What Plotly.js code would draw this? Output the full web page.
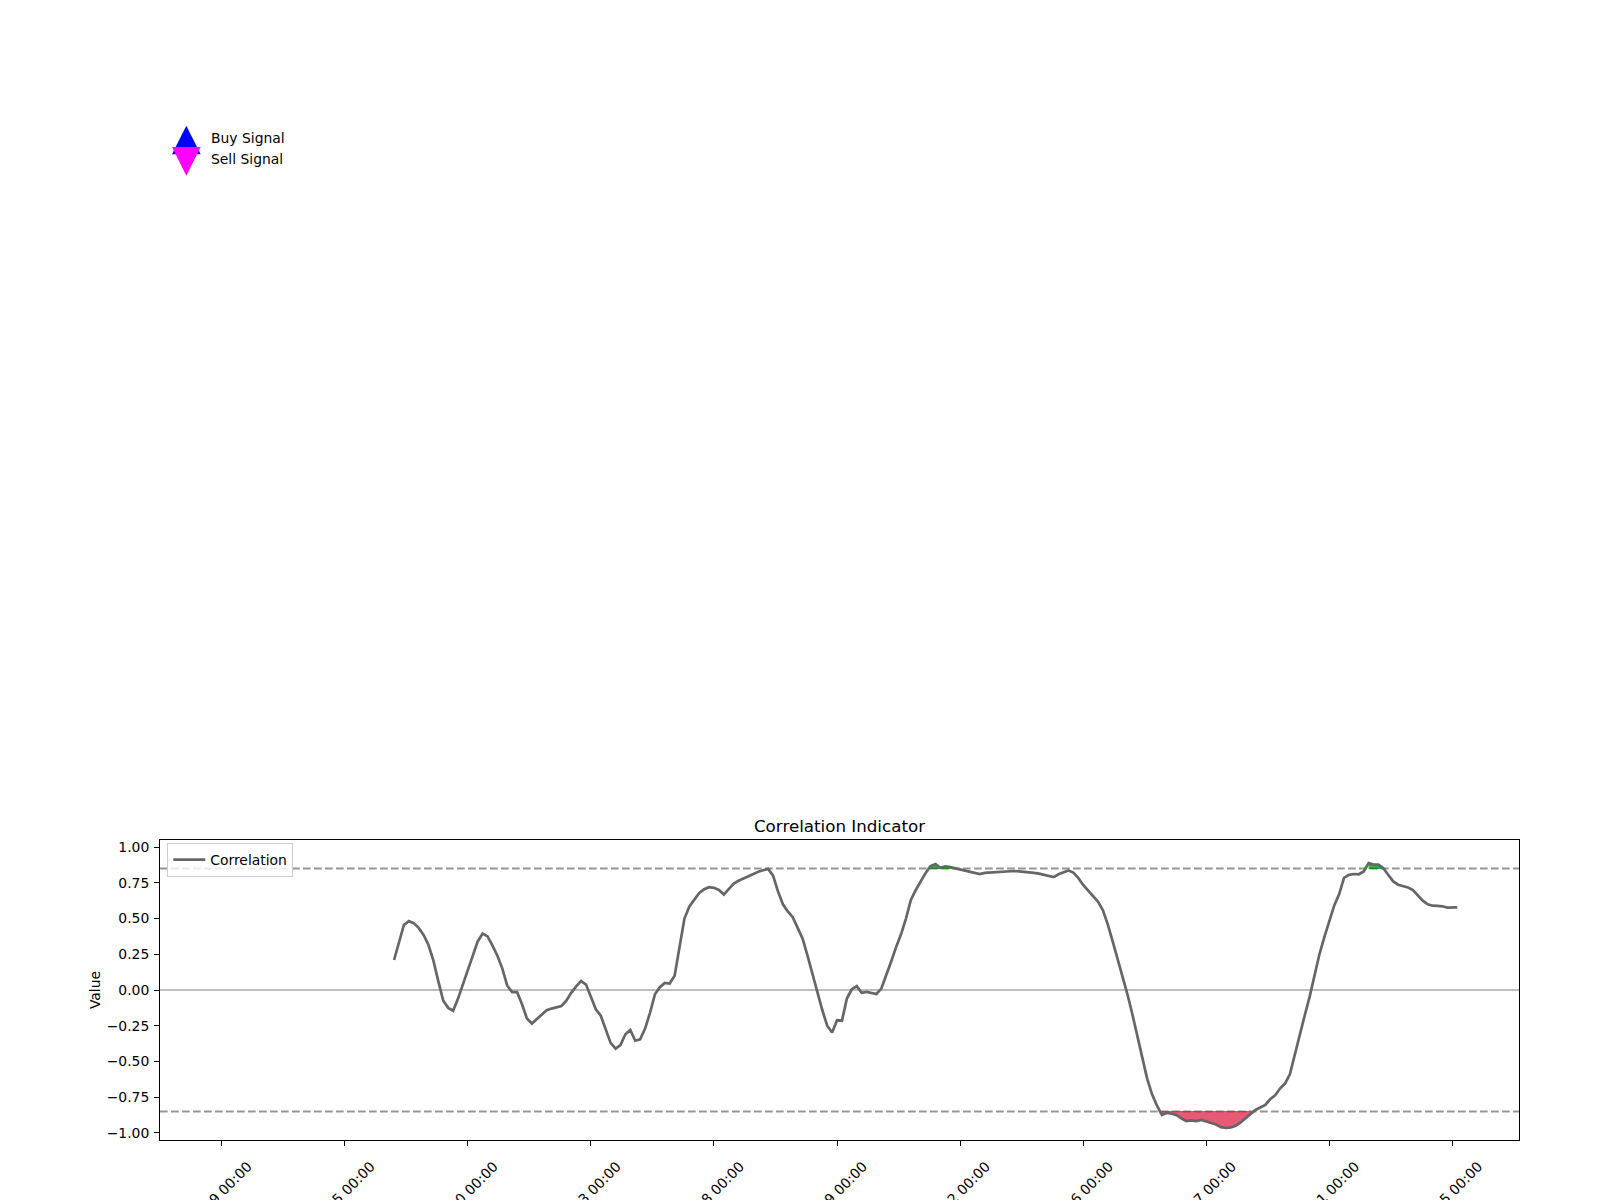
<!DOCTYPE html>
<html>
<head>
<meta charset="utf-8">
<script src="https://cdn.plot.ly/plotly-3.0.1.min.js"></script>
<style>
  html, body { margin: 0; padding: 0; background: #ffffff; }
  #chart { width: 1600px; height: 1200px; }
</style>
</head>
<body>
<div id="chart"></div>
<script>
// ---------------- data ----------------
const nPoints = 252;          // rows on the x axis (index 0 .. 251)
const corrStart = 35;         // first row with a correlation value (rolling window)
const corrValues = [
  0.21, 0.34, 0.455, 0.482, 0.468, 0.435, 0.385, 0.315, 0.205, 0.06,
  -0.075, -0.125, -0.145, -0.06, 0.04, 0.14, 0.24, 0.34, 0.395, 0.375,
  0.31, 0.24, 0.15, 0.03, -0.015, -0.015, -0.1, -0.2, -0.235, -0.205,
  -0.17, -0.142, -0.13, -0.12, -0.112, -0.075, -0.02, 0.025, 0.062, 0.038,
  -0.045, -0.135, -0.18, -0.28, -0.37, -0.41, -0.385, -0.31, -0.28, -0.355,
  -0.345, -0.27, -0.16, -0.03, 0.02, 0.05, 0.045, 0.1, 0.3, 0.5,
  0.585, 0.635, 0.68, 0.705, 0.72, 0.715, 0.7, 0.668, 0.71, 0.745,
  0.765, 0.78, 0.8, 0.815, 0.828, 0.838, 0.848, 0.8, 0.69, 0.6,
  0.55, 0.51, 0.44, 0.36, 0.24, 0.11, -0.02, -0.14, -0.25, -0.298,
  -0.212, -0.215, -0.06, 0.005, 0.027, -0.02, -0.013, -0.018, -0.028, 0.01,
  0.1, 0.2, 0.3, 0.39, 0.5, 0.63, 0.7, 0.76, 0.82, 0.868,
  0.882, 0.855, 0.866, 0.86, 0.852, 0.843, 0.834, 0.826, 0.815, 0.812,
  0.82, 0.823, 0.823, 0.826, 0.83, 0.832, 0.833, 0.83, 0.828, 0.824,
  0.82, 0.815, 0.807, 0.796, 0.79, 0.81, 0.823, 0.837, 0.822, 0.785,
  0.735, 0.695, 0.655, 0.619, 0.56, 0.46, 0.34, 0.22, 0.1, -0.03,
  -0.17, -0.32, -0.47, -0.62, -0.73, -0.81, -0.875, -0.86, -0.866, -0.876,
  -0.9, -0.917, -0.913, -0.918, -0.91, -0.92, -0.927, -0.942, -0.96, -0.966,
  -0.962, -0.95, -0.927, -0.9, -0.87, -0.84, -0.822, -0.805, -0.765, -0.738,
  -0.69, -0.655, -0.59, -0.46, -0.32, -0.18, -0.05, 0.1, 0.25, 0.37,
  0.48, 0.59, 0.67, 0.785, 0.806, 0.812, 0.81, 0.83, 0.888, 0.878,
  0.877, 0.852, 0.805, 0.76, 0.737, 0.728, 0.717, 0.7, 0.66, 0.625,
  0.6, 0.59, 0.589, 0.586, 0.577, 0.576, 0.579
];
const upperThreshold = 0.85;
const lowerThreshold = -0.85;
const tickRows = [0, 25, 50, 75, 100, 125, 150, 175, 200, 225, 250];
const tickLabels = [
  "2023-01-09 00:00", "2023-02-15 00:00", "2023-03-20 00:00", "2023-04-23 00:00",
  "2023-05-28 00:00", "2023-06-29 00:00", "2023-08-02 00:00", "2023-09-06 00:00",
  "2023-10-07 00:00", "2023-11-11 00:00", "2023-12-15 00:00"
];
const legendSignals = ["Buy Signal", "Sell Signal"];

// ---------------- build series ----------------
const xs = [];
const corr = [];
for (let i = 0; i < nPoints; i++) {
  xs.push(i);
  const k = i - corrStart;
  corr.push(k >= 0 && k < corrValues.length ? corrValues[k] : null);
}

function regionTraces(test, thr, color) {
  const out = [];
  let run = [];
  const flush = () => {
    if (run.length) {
      const fx = run.concat(run.slice().reverse());
      const fy = run.map(i => corr[i]).concat(run.map(() => thr));
      out.push({
        x: fx, y: fy, type: 'scatter', mode: 'lines', fill: 'toself',
        fillcolor: color, line: {color: color, width: 1},
        hoverinfo: 'skip', showlegend: false
      });
      run = [];
    }
  };
  for (let i = 0; i < nPoints; i++) {
    if (corr[i] !== null && test(corr[i])) run.push(i); else flush();
  }
  flush();
  return out;
}

const traces = []
  .concat(regionTraces(v => v > upperThreshold, upperThreshold, 'rgba(0,128,0,0.7)'))
  .concat(regionTraces(v => v < lowerThreshold, lowerThreshold, 'rgba(220,20,60,0.7)'));

traces.push({
  x: xs, y: corr, type: 'scatter', mode: 'lines', name: 'Correlation',
  line: {color: '#666666', width: 2.7}, connectgaps: false
});

// ---------------- layout helpers (pixel -> paper) ----------------
const M = {l: 160, r: 81, t: 840, b: 60};
const PW = 1600 - M.l - M.r, PH = 1200 - M.t - M.b;
const px = x => (x - M.l) / PW;
const py = y => (1200 - M.b - y) / PH;
const tri = (pts) => 'M' + pts.map(p => px(p[0]).toFixed(5) + ',' + py(p[1]).toFixed(5)).join(' L') + ' Z';

const FONT = 'DejaVu Sans';
const shapes = [
  {type: 'line', xref: 'paper', yref: 'y', x0: 0, x1: 1, y0: upperThreshold, y1: upperThreshold,
   line: {color: '#959595', width: 2, dash: '7.7px,3.3px'}, layer: 'below'},
  {type: 'line', xref: 'paper', yref: 'y', x0: 0, x1: 1, y0: lowerThreshold, y1: lowerThreshold,
   line: {color: '#959595', width: 2, dash: '7.7px,3.3px'}, layer: 'below'},
  {type: 'line', xref: 'paper', yref: 'y', x0: 0, x1: 1, y0: 0, y1: 0,
   line: {color: '#a8a8a8', width: 1.6}, layer: 'below'},
  // legend glyphs for the (empty) signal panel
  {type: 'path', xref: 'paper', yref: 'paper', path: tri([[186.3, 125.7], [172, 154.3], [200.7, 154.3]]),
   fillcolor: '#0000ff', line: {width: 0}},
  {type: 'path', xref: 'paper', yref: 'paper', path: tri([[172, 147], [200.7, 147], [186.3, 175.7]]),
   fillcolor: '#ff00ff', line: {width: 0}}
];

const annotations = [
  {xref: 'paper', yref: 'paper', x: px(209), y: py(137.5), xanchor: 'left', yanchor: 'middle',
   text: legendSignals[0], showarrow: false, font: {family: FONT, size: 13.9, color: '#000'}},
  {xref: 'paper', yref: 'paper', x: px(209), y: py(159.5), xanchor: 'left', yanchor: 'middle',
   text: legendSignals[1], showarrow: false, font: {family: FONT, size: 13.9, color: '#000'}}
];

const layout = {
  width: 1600, height: 1200,
  margin: M,
  paper_bgcolor: '#ffffff', plot_bgcolor: '#ffffff',
  font: {family: FONT, size: 13.9, color: '#000000'},
  title: {text: 'Correlation Indicator', font: {family: FONT, size: 16.7, color: '#000'},
          x: 0.5, xref: 'paper', xanchor: 'center', y: (1200 - 832.3) / 1200, yref: 'container', yanchor: 'bottom'},
  showlegend: true,
  legend: {x: px(167.3), y: py(843), xanchor: 'left', yanchor: 'top', itemwidth: 32,
           bgcolor: 'rgba(255,255,255,0.8)', bordercolor: '#cccccc', borderwidth: 1,
           font: {family: FONT, size: 13.9, color: '#000'}},
  xaxis: {
    range: [-12.55, 263.55], showgrid: false, zeroline: false,
    showline: true, linecolor: '#000', linewidth: 1.1, mirror: true,
    ticks: 'outside', ticklen: 4.9, tickwidth: 1.1, tickcolor: '#000',
    tickmode: 'array', tickvals: tickRows, ticktext: tickLabels,
    tickangle: -45, ticklabelshift: 26, ticklabelstandoff: 7,
    tickfont: {family: FONT, size: 13.9, color: '#000'}
  },
  yaxis: {
    range: [-1.05, 1.05], showgrid: false, zeroline: false,
    showline: true, linecolor: '#000', linewidth: 1.1, mirror: true,
    ticks: 'outside', ticklen: 4.9, tickwidth: 1.1, tickcolor: '#000',
    tickmode: 'array', tickvals: [-1, -0.75, -0.5, -0.25, 0, 0.25, 0.5, 0.75, 1],
    tickformat: '.2f', ticklabelstandoff: 2,
    tickfont: {family: FONT, size: 13.9, color: '#000'},
    title: {text: 'Value', font: {family: FONT, size: 13.9, color: '#000'}, standoff: 2}
  },
  shapes: shapes,
  annotations: annotations
};

Plotly.newPlot('chart', traces, layout, {displayModeBar: false, responsive: false});
</script>
</body>
</html>
